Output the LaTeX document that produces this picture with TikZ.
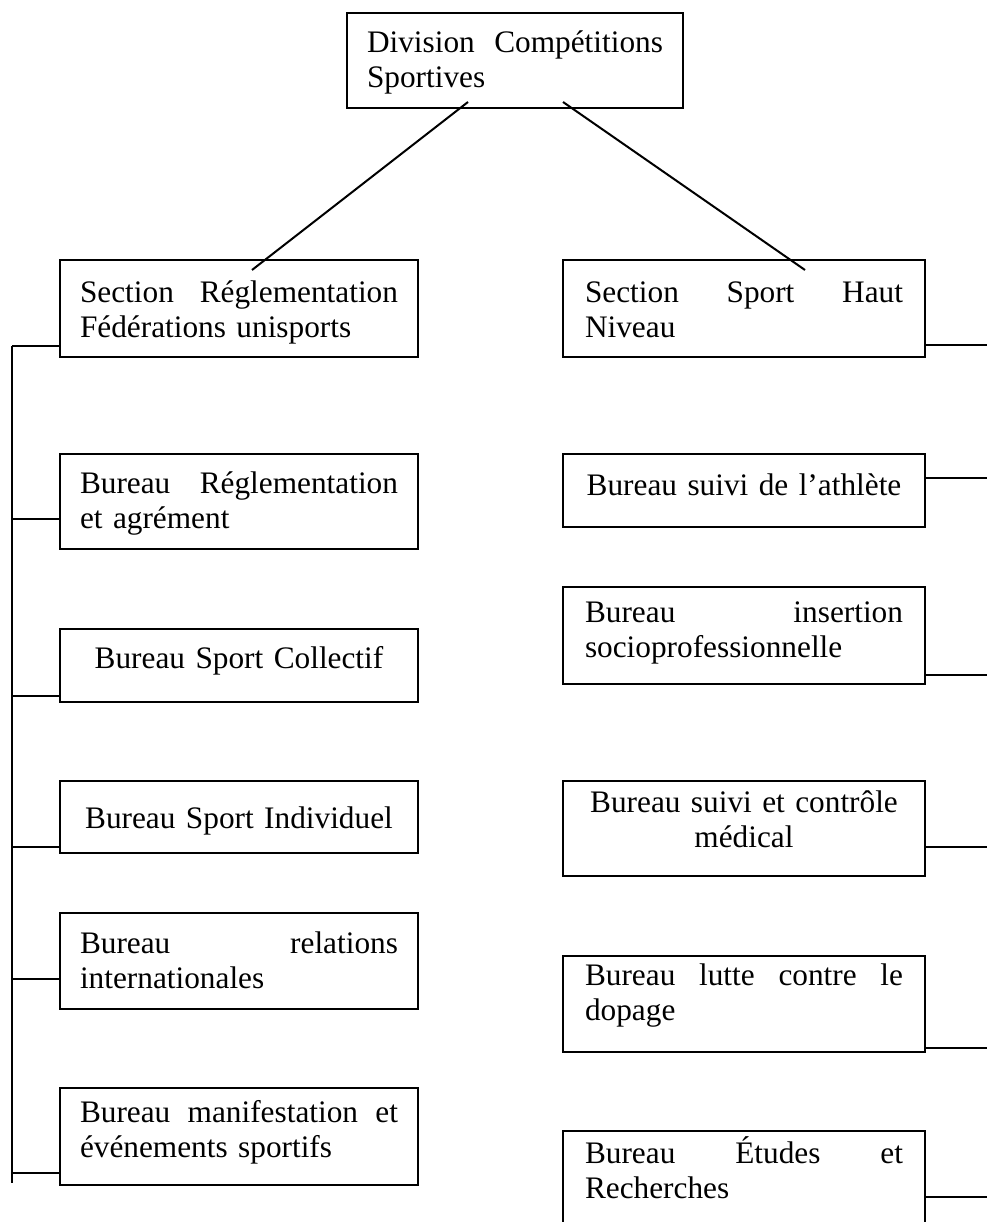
\documentclass[tikz,border=0pt]{standalone}
\usepackage{fontspec}
\setmainfont{Liberation Serif}
\usetikzlibrary{calc}
% one justified line spread across the text width
\newcommand\jl[1]{\hbox to\linewidth{#1}}
\begin{document}
\begin{tikzpicture}[x=1pt,y=-1pt,
  unit/.style={draw, line width=2.2pt, anchor=north, inner ysep=0pt,
    outer sep=0pt, font=\fontsize{31.3}{35}\selectfont},
  lcol/.style={unit, inner xsep=20pt, text width=318pt, minimum width=358pt},
  rcol/.style={unit, inner xsep=22pt, text width=318pt, minimum width=362pt},
  link/.style={line width=2pt}]
\useasboundingbox (0,0) rectangle (987,1222);
\clip (0,0) rectangle (987,1222);

% head of the division
\node[unit, inner xsep=20pt, text width=296pt, align=left,
      text height=40pt, text depth=55pt] (div) at (515,13)
  {\jl{Division\hfill Compétitions}\\Sportives};

% left branch
\node[lcol, align=left, text height=42pt, text depth=55pt] (secA) at (239,260)
  {\jl{Section\hfill Réglementation}\\Fédérations unisports};
\node[lcol, align=left, text height=39pt, text depth=56pt] (bA1) at (239,454)
  {\jl{Bureau\hfill Réglementation}\\et agrément};
\node[lcol, align=center, text height=39pt, text depth=34pt] (bA2) at (239,629)
  {\mbox{Bureau Sport Collectif}};
\node[lcol, align=center, text height=47pt, text depth=25pt] (bA3) at (239,781)
  {\mbox{Bureau Sport Individuel}};
\node[lcol, align=left, text height=40pt, text depth=56pt] (bA4) at (239,913)
  {\jl{Bureau\hfill relations}\\internationales};
\node[lcol, align=left, text height=34pt, text depth=63pt] (bA5) at (239,1088)
  {\jl{Bureau\hfill manifestation\hfill et}\\événements sportifs};

% right branch
\node[rcol, align=left, text height=42pt, text depth=55pt] (secB) at (744,260)
  {\jl{Section\hfill Sport\hfill Haut}\\Niveau};
\node[rcol, align=center, text height=41pt, text depth=32pt] (bB1) at (744,454)
  {\mbox{Bureau suivi de l’athlète}};
\node[rcol, align=left, text height=35pt, text depth=62pt] (bB2) at (744,587)
  {\jl{Bureau\hfill insertion}\\socioprofessionnelle};
\node[rcol, align=center, text height=31pt, text depth=64pt] (bB3) at (744,781)
  {\mbox{Bureau suivi et contrôle}\\médical};
\node[rcol, align=left, text height=29pt, text depth=67pt] (bB4) at (744,956)
  {\jl{Bureau\hfill lutte\hfill contre\hfill le}\\dopage};
\node[rcol, align=left, text height=32pt, text depth=67pt] (bB5) at (744,1131)
  {\jl{Bureau\hfill Études\hfill et}\\Recherches};

% division to sections
\draw[link] ($(div.south west)+(121,-6)$) -- ($(secA.north west)+(192,10)$);
\draw[link] ($(div.south west)+(216,-6)$) -- ($(secB.north west)+(242,10)$);

% left trunk and its branches
\coordinate (trunkTop) at (12,346);
\coordinate (trunkBot) at (12,1183);
\draw[link] (trunkTop) -- (trunkBot);
\draw[link] (trunkTop) -- (trunkTop -| secA.west);
\draw[link] ([yshift=30pt]bA1.south west) -- ++(-48,0);
\draw[link] ([yshift=6pt]bA2.south west) -- ++(-48,0);
\draw[link] ([yshift=6pt]bA3.south west) -- ++(-48,0);
\draw[link] ([yshift=30pt]bA4.south west) -- ++(-48,0);
\draw[link] ([yshift=12pt]bA5.south west) -- ++(-48,0);

% right branches running off to the edge
\draw[link] ([yshift=12pt]secB.south east) -- ++(62,0);
\draw[link] ([yshift=49pt]bB1.south east) -- ++(62,0);
\draw[link] ([yshift=9pt]bB2.south east) -- ++(62,0);
\draw[link] ([yshift=29pt]bB3.south east) -- ++(62,0);
\draw[link] ([yshift=4pt]bB4.south east) -- ++(62,0);
\draw[link] ([yshift=-66pt]bB5.north east) -- ++(62,0);
\end{tikzpicture}
\end{document}
